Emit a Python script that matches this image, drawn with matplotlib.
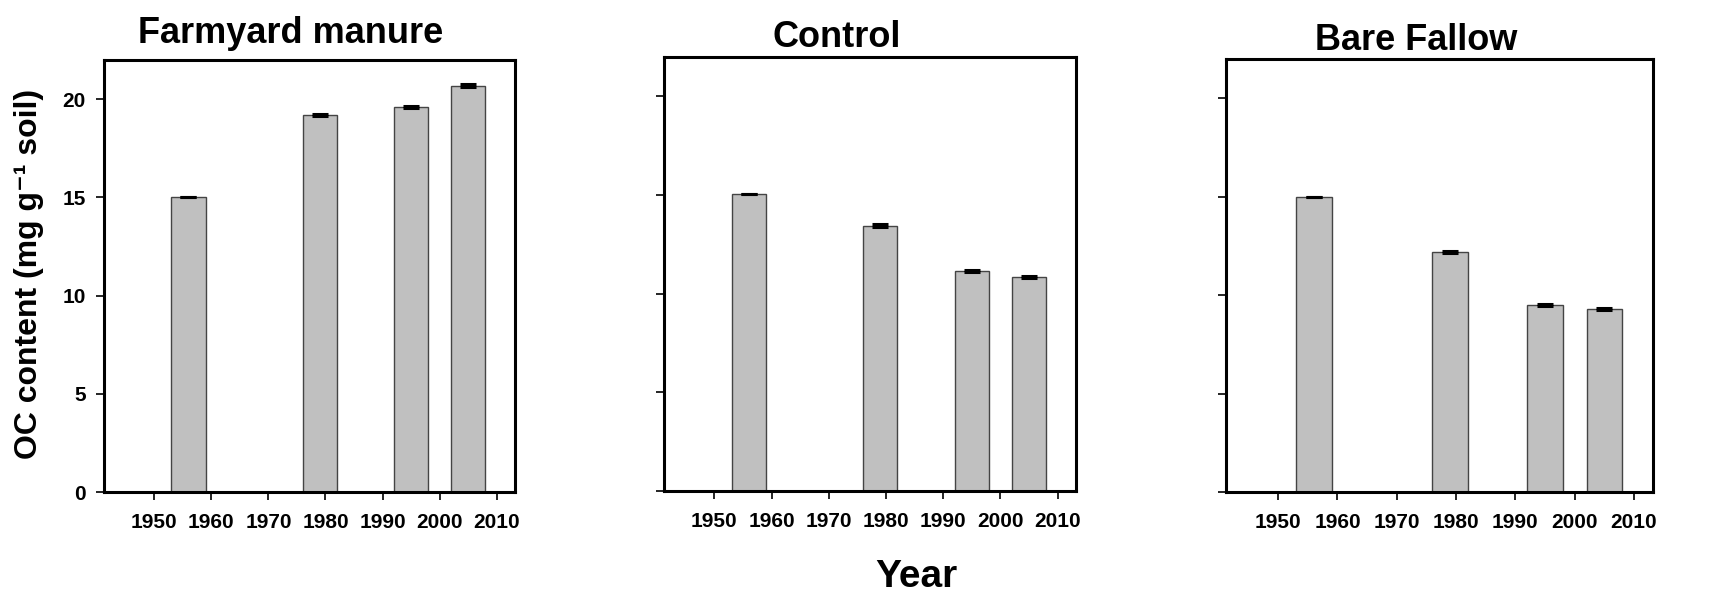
import numpy as np
import matplotlib
matplotlib.use("Agg")
import matplotlib.pyplot as plt

plt.rcParams["font.family"] = ["Liberation Sans", "DejaVu Sans"]
plt.rcParams["font.weight"] = "bold"

# Datos
years = [1956, 1979, 1995, 2005]
treatments = ["Farmyard manure", "Control", "Bare Fallow"]
fym = [15.0, 19.2, 19.6, 20.7]
fym_err = [0.0, 0.05, 0.06, 0.06]
control = [15.05, 13.45, 11.15, 10.85]
control_err = [0.0, 0.08, 0.05, 0.04]
fallow = [15.0, 12.2, 9.5, 9.3]
fallow_err = [0.0, 0.04, 0.04, 0.03]

values = [fym, control, fallow]
errors = [fym_err, control_err, fallow_err]

W, H = 1717, 595
fig = plt.figure(figsize=(W / 100, H / 100), dpi=100)

# posiciones de los paneles en pixeles (x0, y0, x1, y1)
boxes = [(104, 60, 515, 492), (664, 57, 1076, 491), (1226, 59, 1653, 492)]
title_pos = [(291, 43), (837, 47), (1416, 50)]

for i, (x0, y0, x1, y1) in enumerate(boxes):
    ax = fig.add_axes([x0 / W, (H - y1) / H, (x1 - x0) / W, (y1 - y0) / H])
    ax.bar(years, values[i], width=6, color="#c0c0c0", edgecolor="#444444",
           linewidth=1.0, zorder=2)
    ax.errorbar(years, values[i], yerr=errors[i], fmt="none", ecolor="black",
                elinewidth=1.5, capsize=5.5, capthick=2.2, zorder=3)
    ax.set_xlim(1941.2, 2013.2)
    ax.set_ylim(0, 22)
    ax.set_xticks(range(1950, 2011, 10))
    ax.set_yticks([0, 5, 10, 15, 20])
    for sp in ax.spines.values():
        sp.set_linewidth(2.2)
    ax.tick_params(axis="both", direction="out", length=6, width=1.2,
                   labelsize=15)
    ax.tick_params(axis="x", pad=9)
    ax.tick_params(axis="y", pad=7)
    for lab in ax.get_xticklabels() + ax.get_yticklabels():
        lab.set_fontweight("bold")
    if i > 0:
        ax.set_yticklabels([])
    tx, ty = title_pos[i]
    fig.text(tx / W, (H - ty) / H, treatments[i], ha="center", va="baseline",
             fontsize=26, fontweight="bold")

fig.text(29 / W, (H - 274) / H, "OC content (mg g\u207b\u00b9 soil)",
         rotation=90, ha="center", va="center", fontsize=23, fontweight="bold")
fig.text(916 / W, (H - 587) / H, "Year", ha="center", va="baseline",
         fontsize=28, fontweight="bold")

fig.savefig("out.png", dpi=100)
